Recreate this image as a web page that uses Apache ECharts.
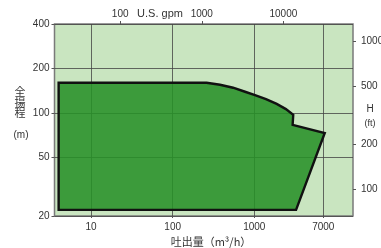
<!DOCTYPE html>
<html><head><meta charset="utf-8">
<script src="https://cdn.jsdelivr.net/npm/echarts@6/dist/echarts.min.js"></script>
<style>html,body{margin:0;padding:0;background:#fff}#c{width:381px;height:248px}</style>
</head><body><div id="c"></div>
<script>
// Axis ranges / tick labels
const flowTicks = [10, 100, 1000, 7000];          // m3/h (bottom)
const headTicks = [20, 50, 100, 200, 400];         // m (left)
const gpmTicks = [100, 1000, 10000];               // U.S. gpm (top)
const ftTicks = [100, 200, 500, 1000];             // ft (right)
const flowMin = 3.56, flowMax = 16200;
const headMin = 20, headMax = 400;
const GPM_PER_M3H = 4.403, FT_PER_M = 1 / 0.3048;

// Operating range envelope (Q m3/h, H m)
const envQ = [4, 260, 380, 550, 770, 1020, 1390, 1880, 2440, 3000, 2950, 7300, 3250, 4];
const envH = [160, 160, 155, 148, 139, 132, 124, 115, 106, 97, 83, 73, 22, 22];

const chart = echarts.init(document.getElementById('c'), null, {renderer: 'canvas'});
const font = 'Liberation Sans, Arial, sans-serif';
const cjk = '"Noto Sans CJK JP", "Noto Sans CJK SC", sans-serif';
const fmt = v => String(Math.round(v));
const lbl = {color: '#333', fontSize: 10, fontFamily: font, formatter: fmt};
chart.setOption({
  animation: false,
  grid: {left: 54.5, right: 28, top: 24, bottom: 32, show: true, outerBoundsMode: 'none', containLabel: false,
         backgroundColor: '#c9e5c0', borderColor: '#7a7a7a', borderWidth: 1.5},
  xAxis: [{
    type: 'log', logBase: 10, min: flowMin, max: flowMax,
    axisLine: {show: false},
    axisTick: {show: true, customValues: flowTicks, length: 2, lineStyle: {color: '#555'}},
    axisLabel: Object.assign({customValues: flowTicks, margin: 6}, lbl),
    splitLine: {show: true, lineStyle: {color: '#444', width: 0.8}}
  }, {
    type: 'log', logBase: 10, position: 'top',
    min: flowMin * GPM_PER_M3H, max: flowMax * GPM_PER_M3H,
    axisLine: {show: false},
    axisTick: {show: true, customValues: gpmTicks, length: 3, lineStyle: {color: '#555'}},
    axisLabel: Object.assign({customValues: gpmTicks, margin: 5}, lbl),
    splitLine: {show: false}
  }],
  yAxis: [{
    type: 'log', logBase: 10, min: headMin, max: headMax,
    axisLine: {show: false},
    axisTick: {show: true, customValues: headTicks, length: 3, lineStyle: {color: '#555'}},
    axisLabel: Object.assign({customValues: headTicks, margin: 5}, lbl),
    splitLine: {show: true, lineStyle: {color: '#444', width: 0.8}}
  }, {
    type: 'log', logBase: 10, position: 'right',
    min: headMin * FT_PER_M, max: headMax * FT_PER_M,
    axisLine: {show: false},
    axisTick: {show: true, customValues: ftTicks, length: 3, lineStyle: {color: '#555'}},
    axisLabel: Object.assign({customValues: ftTicks, margin: 8}, lbl),
    splitLine: {show: false}
  }],
  graphic: [
    {type: 'text', x: 160, y: 14, style: {text: 'U.S. gpm', fill: '#333', fontSize: 11, fontFamily: font, align: 'center', verticalAlign: 'middle'}},
    {type: 'text', x: 370, y: 109, style: {text: 'H', fill: '#333', fontSize: 10, fontFamily: font, align: 'center', verticalAlign: 'middle'}},
    {type: 'text', x: 370, y: 124, style: {text: '(ft)', fill: '#333', fontSize: 9, fontFamily: font, align: 'center', verticalAlign: 'middle'}},
    {type: 'text', x: 20, y: 102.5, style: {text: '全\n揚\n程', fill: '#333', fontSize: 11, lineHeight: 10.7, fontFamily: cjk, align: 'center', verticalAlign: 'middle'}},
    {type: 'text', x: 21, y: 135, style: {text: '(m)', fill: '#333', fontSize: 10, fontFamily: font, align: 'center', verticalAlign: 'middle'}},
    {type: 'text', x: 211, y: 242, style: {text: '吐出量（m³/h）', fill: '#333', fontSize: 11, fontFamily: cjk, align: 'center', verticalAlign: 'middle'}}
  ],
  series: [{
    type: 'custom', xAxisIndex: 0, yAxisIndex: 0, data: [0], clip: true,
    renderItem: function (params, api) {
      const pts = envQ.map((q, i) => api.coord([q, envH[i]]));
      return {type: 'polygon', shape: {points: pts},
        style: {fill: 'rgba(40,145,40,0.88)', stroke: '#111', lineWidth: 2.4, lineJoin: 'miter'}};
    }
  }]
});
</script></body></html>
